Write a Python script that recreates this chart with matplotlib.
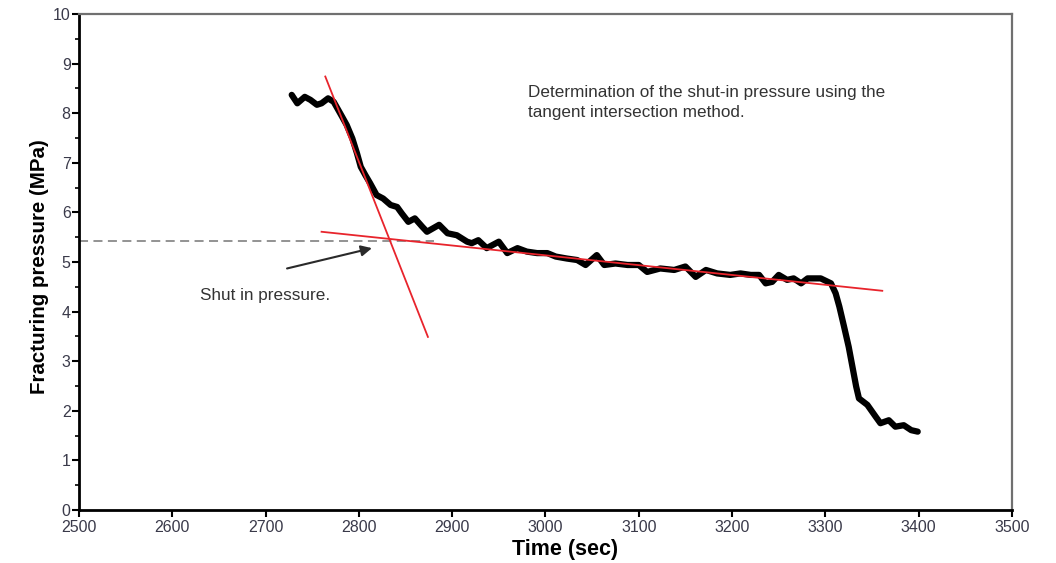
import numpy as np
import matplotlib
matplotlib.use("Agg")
import matplotlib.pyplot as plt
from matplotlib.ticker import MultipleLocator

plt.rcParams['font.family'] = ['Liberation Sans', 'DejaVu Sans']

# pressure record (time in s, pressure in MPa)
time_s = [2728, 2734, 2742, 2748, 2755, 2760, 2767, 2773, 2782, 2787, 2793, 2798,
          2802, 2807, 2812, 2819, 2826, 2834, 2841, 2846, 2853, 2860, 2868, 2873,
          2886, 2895, 2905, 2916, 2921, 2928, 2937, 2950, 2959, 2970, 2980, 2991,
          3002, 3011, 3023, 3034, 3043, 3055, 3063, 3075, 3088, 3100, 3109, 3123,
          3138, 3150, 3161, 3172, 3184, 3198, 3209, 3220, 3229, 3236, 3243, 3250,
          3259, 3266, 3274, 3281, 3295, 3306, 3311, 3315, 3320, 3325, 3329, 3333,
          3336, 3345, 3354, 3359, 3368, 3375, 3384, 3392, 3399]
pressure = [8.37, 8.20, 8.33, 8.27, 8.17, 8.20, 8.30, 8.23, 7.93, 7.76, 7.49, 7.19,
            6.92, 6.75, 6.59, 6.35, 6.28, 6.15, 6.11, 5.98, 5.81, 5.88, 5.71, 5.61,
            5.75, 5.58, 5.54, 5.41, 5.38, 5.44, 5.28, 5.41, 5.18, 5.28, 5.21, 5.18,
            5.18, 5.11, 5.07, 5.04, 4.94, 5.14, 4.94, 4.97, 4.94, 4.94, 4.80, 4.87,
            4.84, 4.91, 4.70, 4.84, 4.77, 4.74, 4.77, 4.74, 4.74, 4.57, 4.60, 4.74,
            4.64, 4.67, 4.57, 4.67, 4.67, 4.57, 4.37, 4.10, 3.70, 3.29, 2.89, 2.49,
            2.25, 2.12, 1.88, 1.75, 1.81, 1.68, 1.71, 1.61, 1.58]

# tangent lines
tan1_t = [2764, 2874]
tan1_p = [8.74, 3.49]
tan2_t = [2760, 3361]
tan2_p = [5.61, 4.42]

# shut-in pressure level
isip_t = [2500, 2880]
isip_p = [5.43, 5.43]

fig = plt.figure(figsize=(10.56, 5.63), dpi=100)
ax = fig.add_axes([0.0748, 0.0941, 0.8835, 0.8810])

ax.plot(time_s, pressure, color='black', lw=4.5, solid_joinstyle='round',
        solid_capstyle='round', zorder=3)
ax.plot(tan1_t, tan1_p, color='#e8242c', lw=1.3, zorder=4)
ax.plot(tan2_t, tan2_p, color='#e8242c', lw=1.3, zorder=4)
ax.plot(isip_t, isip_p, color='#8a8a8a', lw=1.3, ls=(0, (5, 3)), zorder=2)

ax.annotate('', xy=(2814, 5.28), xytext=(2723, 4.87),
            arrowprops=dict(arrowstyle='-|>', color='#2a2a2a', lw=1.5,
                            mutation_scale=16, shrinkA=0, shrinkB=0))
ax.text(2630, 4.33, 'Shut in pressure.', fontsize=12.3, color='#333333', va='center')
ax.text(2981, 8.57, 'Determination of the shut-in pressure using the\ntangent intersection method.',
        fontsize=12.3, color='#333333', va='top', linespacing=1.4)

ax.set_xlim(2500, 3500)
ax.set_ylim(0, 10)
ax.xaxis.set_major_locator(MultipleLocator(100))
ax.yaxis.set_major_locator(MultipleLocator(1))
ax.yaxis.set_minor_locator(MultipleLocator(0.5))
ax.tick_params(axis='both', which='major', direction='out', length=5, width=1.5,
               labelsize=11.5, labelcolor='#3a3a4a', color='black', pad=2)
ax.tick_params(axis='y', which='major', pad=1)
ax.tick_params(axis='y', which='minor', direction='out', length=3, width=1.2, color='black')

for s in ['left', 'bottom']:
    ax.spines[s].set_linewidth(2)
    ax.spines[s].set_color('black')
for s in ['top', 'right']:
    ax.spines[s].set_linewidth(1.6)
    ax.spines[s].set_color('#707070')

ax.set_xlabel('Time (sec)', fontsize=15.5, fontweight='bold')
ax.set_ylabel('Fracturing pressure (MPa)', fontsize=14.8, fontweight='bold')
ax.xaxis.set_label_coords(0.521, -0.058)
ax.yaxis.set_label_coords(-0.032, 0.49)

fig.savefig('out.png', dpi=100)
